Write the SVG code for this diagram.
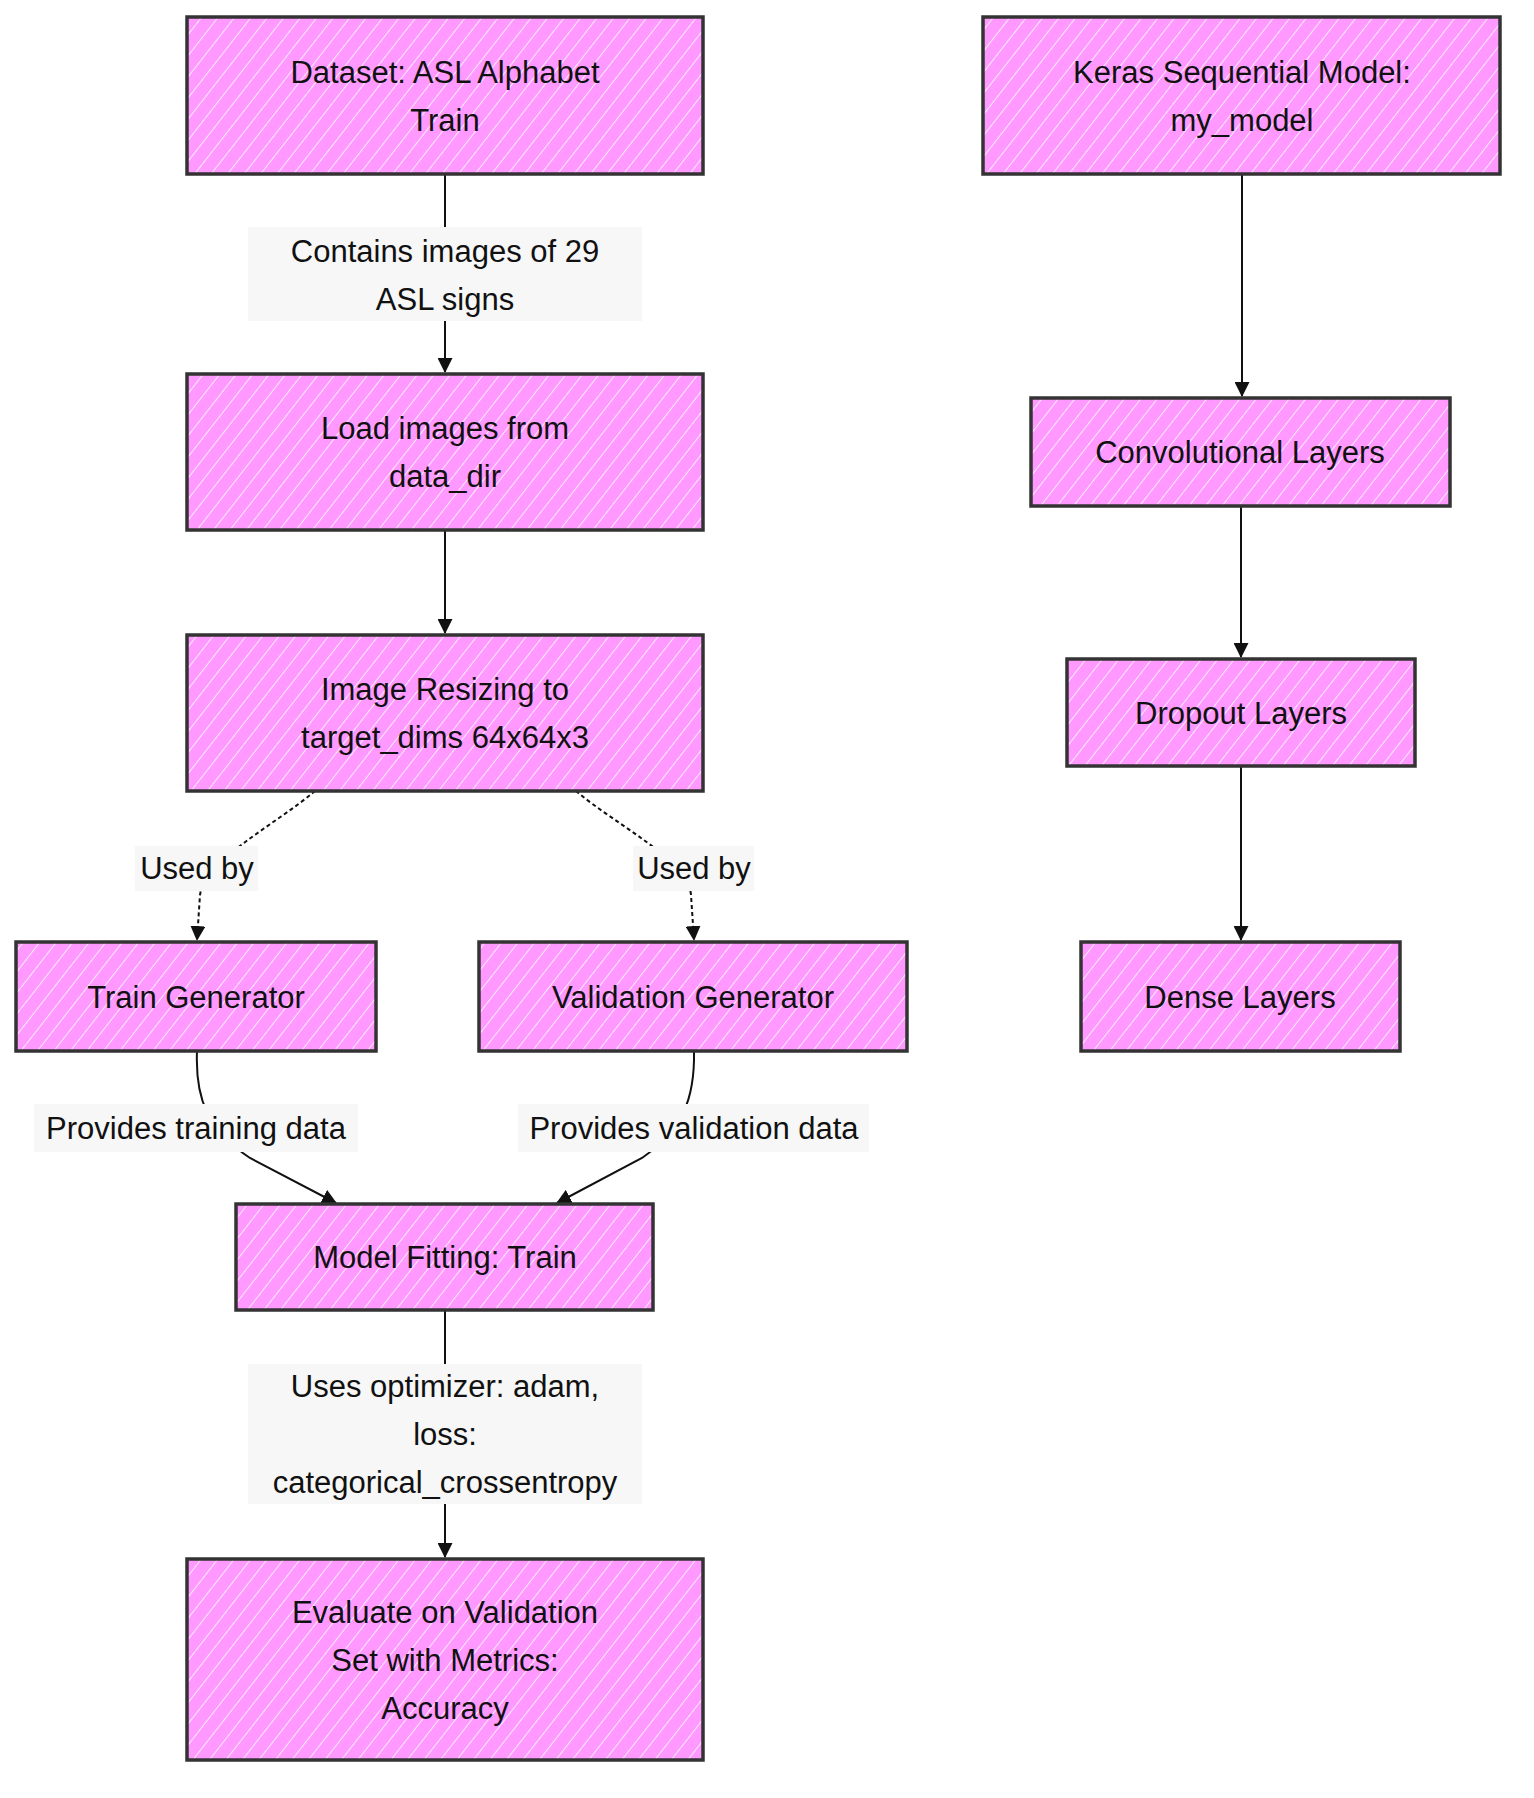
<svg xmlns="http://www.w3.org/2000/svg" width="1534" height="1798" viewBox="0 0 1534 1798">
<defs>
<pattern id="hatch" patternUnits="userSpaceOnUse" width="13" height="13" patternTransform="rotate(38)">
<line x1="0" y1="0" x2="0" y2="13" stroke="#ffffff" stroke-width="1.8" stroke-opacity="0.9"/>
</pattern>
<marker id="arrow" viewBox="0 0 14 14" refX="13" refY="7" markerWidth="15" markerHeight="15" markerUnits="userSpaceOnUse" orient="auto">
<path d="M0,0 L14,7 L0,14 z" fill="#111"/>
</marker>
</defs>
<style>
.box{fill:#ff99ff;stroke:none}
.hatch{fill:url(#hatch);stroke:#333;stroke-width:3.5}
.t{font-family:"Liberation Sans",Arial,sans-serif;font-size:31px;fill:#111;text-anchor:middle;dominant-baseline:central}
.lbg{fill:#f7f7f7}
.e{fill:none;stroke:#111;stroke-width:2}
.d{stroke-dasharray:4 3}
</style>
<rect width="1534" height="1798" fill="#ffffff"/>
<g id="connectors">
<path class="e" d="M445,174 L445,372" marker-end="url(#arrow)"/>
<path class="e" d="M445,530 L445,633" marker-end="url(#arrow)"/>
<path class="e d" d="M315,791 C275,825 205,860 200,895 L197,940" marker-end="url(#arrow)"/>
<path class="e d" d="M576,791 C616,825 688,860 691,895 L694,940" marker-end="url(#arrow)"/>
<path class="e" d="M197,1051 C195,1100 208,1130 250,1158 L336,1203" marker-end="url(#arrow)"/>
<path class="e" d="M694,1051 C695,1100 682,1130 642,1158 L557,1203" marker-end="url(#arrow)"/>
<path class="e" d="M445,1310 L445,1557" marker-end="url(#arrow)"/>
<path class="e" d="M1242,174 L1242,396" marker-end="url(#arrow)"/>
<path class="e" d="M1241,506 L1241,657" marker-end="url(#arrow)"/>
<path class="e" d="M1241,766 L1241,940" marker-end="url(#arrow)"/>
<g id="label-contains">
<rect class="lbg" x="248" y="227" width="394" height="94"/>
<text class="t" x="445" y="251">Contains images of 29</text>
<text class="t" x="445" y="299">ASL signs</text>
</g>
<g id="label-usedby-1">
<rect class="lbg" x="135" y="846" width="123" height="45"/>
<text class="t" x="197" y="868">Used by</text>
</g>
<g id="label-usedby-2">
<rect class="lbg" x="633" y="846" width="121" height="45"/>
<text class="t" x="694" y="868">Used by</text>
</g>
<g id="label-train">
<rect class="lbg" x="34" y="1104" width="324" height="48"/>
<text class="t" x="196" y="1128">Provides training data</text>
</g>
<g id="label-val">
<rect class="lbg" x="518" y="1104" width="351" height="48"/>
<text class="t" x="694" y="1128">Provides validation data</text>
</g>
<g id="label-uses">
<rect class="lbg" x="248" y="1364" width="394" height="140"/>
<text class="t" x="445" y="1386">Uses optimizer: adam,</text>
<text class="t" x="445" y="1434">loss:</text>
<text class="t" x="445" y="1482">categorical_crossentropy</text>
</g>
</g>
<g id="node-dataset">
<rect class="box" x="187" y="17" width="516" height="157"/>
<rect class="hatch" x="187" y="17" width="516" height="157"/>
<text class="t" x="445" y="72">Dataset: ASL Alphabet</text>
<text class="t" x="445" y="120">Train</text>
</g>
<g id="node-keras">
<rect class="box" x="983" y="17" width="517" height="157"/>
<rect class="hatch" x="983" y="17" width="517" height="157"/>
<text class="t" x="1242" y="72">Keras Sequential Model:</text>
<text class="t" x="1242" y="120">my_model</text>
</g>
<g id="node-load">
<rect class="box" x="187" y="374" width="516" height="156"/>
<rect class="hatch" x="187" y="374" width="516" height="156"/>
<text class="t" x="445" y="428">Load images from</text>
<text class="t" x="445" y="476">data_dir</text>
</g>
<g id="node-resize">
<rect class="box" x="187" y="635" width="516" height="156"/>
<rect class="hatch" x="187" y="635" width="516" height="156"/>
<text class="t" x="445" y="689">Image Resizing to</text>
<text class="t" x="445" y="737">target_dims 64x64x3</text>
</g>
<g id="node-traingen">
<rect class="box" x="16" y="942" width="360" height="109"/>
<rect class="hatch" x="16" y="942" width="360" height="109"/>
<text class="t" x="196" y="997">Train Generator</text>
</g>
<g id="node-valgen">
<rect class="box" x="479" y="942" width="428" height="109"/>
<rect class="hatch" x="479" y="942" width="428" height="109"/>
<text class="t" x="693" y="997">Validation Generator</text>
</g>
<g id="node-fit">
<rect class="box" x="236" y="1204" width="417" height="106"/>
<rect class="hatch" x="236" y="1204" width="417" height="106"/>
<text class="t" x="445" y="1257">Model Fitting: Train</text>
</g>
<g id="node-eval">
<rect class="box" x="187" y="1559" width="516" height="201"/>
<rect class="hatch" x="187" y="1559" width="516" height="201"/>
<text class="t" x="445" y="1612">Evaluate on Validation</text>
<text class="t" x="445" y="1660">Set with Metrics:</text>
<text class="t" x="445" y="1708">Accuracy</text>
</g>
<g id="node-conv">
<rect class="box" x="1031" y="398" width="419" height="108"/>
<rect class="hatch" x="1031" y="398" width="419" height="108"/>
<text class="t" x="1240" y="452">Convolutional Layers</text>
</g>
<g id="node-dropout">
<rect class="box" x="1067" y="659" width="348" height="107"/>
<rect class="hatch" x="1067" y="659" width="348" height="107"/>
<text class="t" x="1241" y="713">Dropout Layers</text>
</g>
<g id="node-dense">
<rect class="box" x="1081" y="942" width="319" height="109"/>
<rect class="hatch" x="1081" y="942" width="319" height="109"/>
<text class="t" x="1240" y="997">Dense Layers</text>
</g>
</svg>
